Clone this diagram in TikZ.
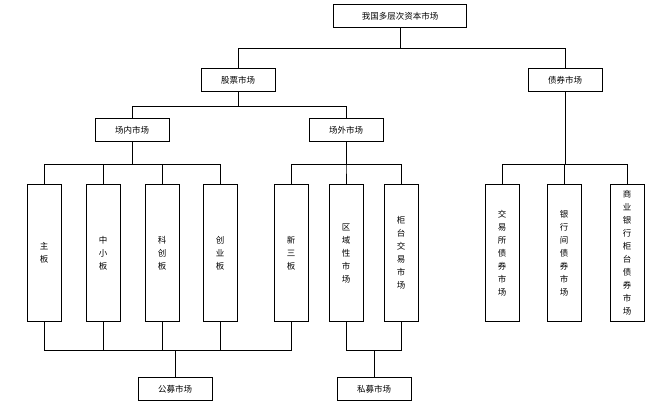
\documentclass[tikz,border=0pt]{standalone}
\usepackage{fontspec}
\setmainfont{Noto Sans CJK SC}
\begin{document}
\begin{tikzpicture}[x=1pt, y=-1pt, font=\fontsize{8.5}{13}\selectfont,
  box/.style={draw, thick, minimum height=23pt, minimum width=74pt, inner sep=1pt},
  tallbox/.style={draw, thick, minimum height=137pt, minimum width=34pt, text width=10pt, align=center, inner sep=1pt},
  conn/.style={semithick}]
\useasboundingbox (0,0) rectangle (648,410);
% top levels
\node[box, minimum width=133pt] (top) at (400,16) {我国多层次资本市场};
\node[box] (stock) at (238,80) {股票市场};
\node[box] (bond) at (565,80) {债券市场};
\node[box] (inner) at (132,130) {场内市场};
\node[box] (outer) at (346,130) {场外市场};
\node[box] (pub) at (175,389) {公募市场};
\node[box] (priv) at (374,389) {私募市场};
% tall boxes
\node[tallbox] (main) at (44,253) {主\\板};
\node[tallbox] (sme) at (103,253) {中\\小\\板};
\node[tallbox] (star) at (162,253) {科\\创\\板};
\node[tallbox] (gem) at (220,253) {创\\业\\板};
\node[tallbox] (neeq) at (291,253) {新\\三\\板};
\node[tallbox] (reg) at (346,253) {区\\域\\性\\市\\场};
\node[tallbox] (otc) at (401,253) {柜\\台\\交\\易\\市\\场};
\node[tallbox] (exch) at (502,253) {交\\易\\所\\债\\券\\市\\场};
\node[tallbox] (ibank) at (564,253) {银\\行\\间\\债\\券\\市\\场};
\node[tallbox] (cbank) at (627,253) {商\\业\\银\\行\\柜\\台\\债\\券\\市\\场};
% connectors
\draw[conn] (top.south) -- ++(0,20) -| (stock.north);
\draw[conn] (top.south) -- ++(0,20) -| (bond.north);
\draw[conn] (stock.south) -- ++(0,14) -| (inner.north);
\draw[conn] (stock.south) -- ++(0,14) -| (outer.north);
\foreach \n in {main,sme,star,gem}
  \draw[conn] (inner.south) -- ++(0,22) -| (\n.north);
\foreach \n in {neeq,reg,otc}
  \draw[conn] (outer.south) -- ++(0,22) -| (\n.north);
\foreach \n in {exch,ibank,cbank}
  \draw[conn] (bond.south) -- ++(0,72) -| (\n.north);
\foreach \n in {main,sme,star,gem,neeq}
  \draw[conn] (pub.north) -- ++(0,-27) -| (\n.south);
\foreach \n in {reg,otc}
  \draw[conn] (priv.north) -- ++(0,-27) -| (\n.south);
\end{tikzpicture}
\end{document}
